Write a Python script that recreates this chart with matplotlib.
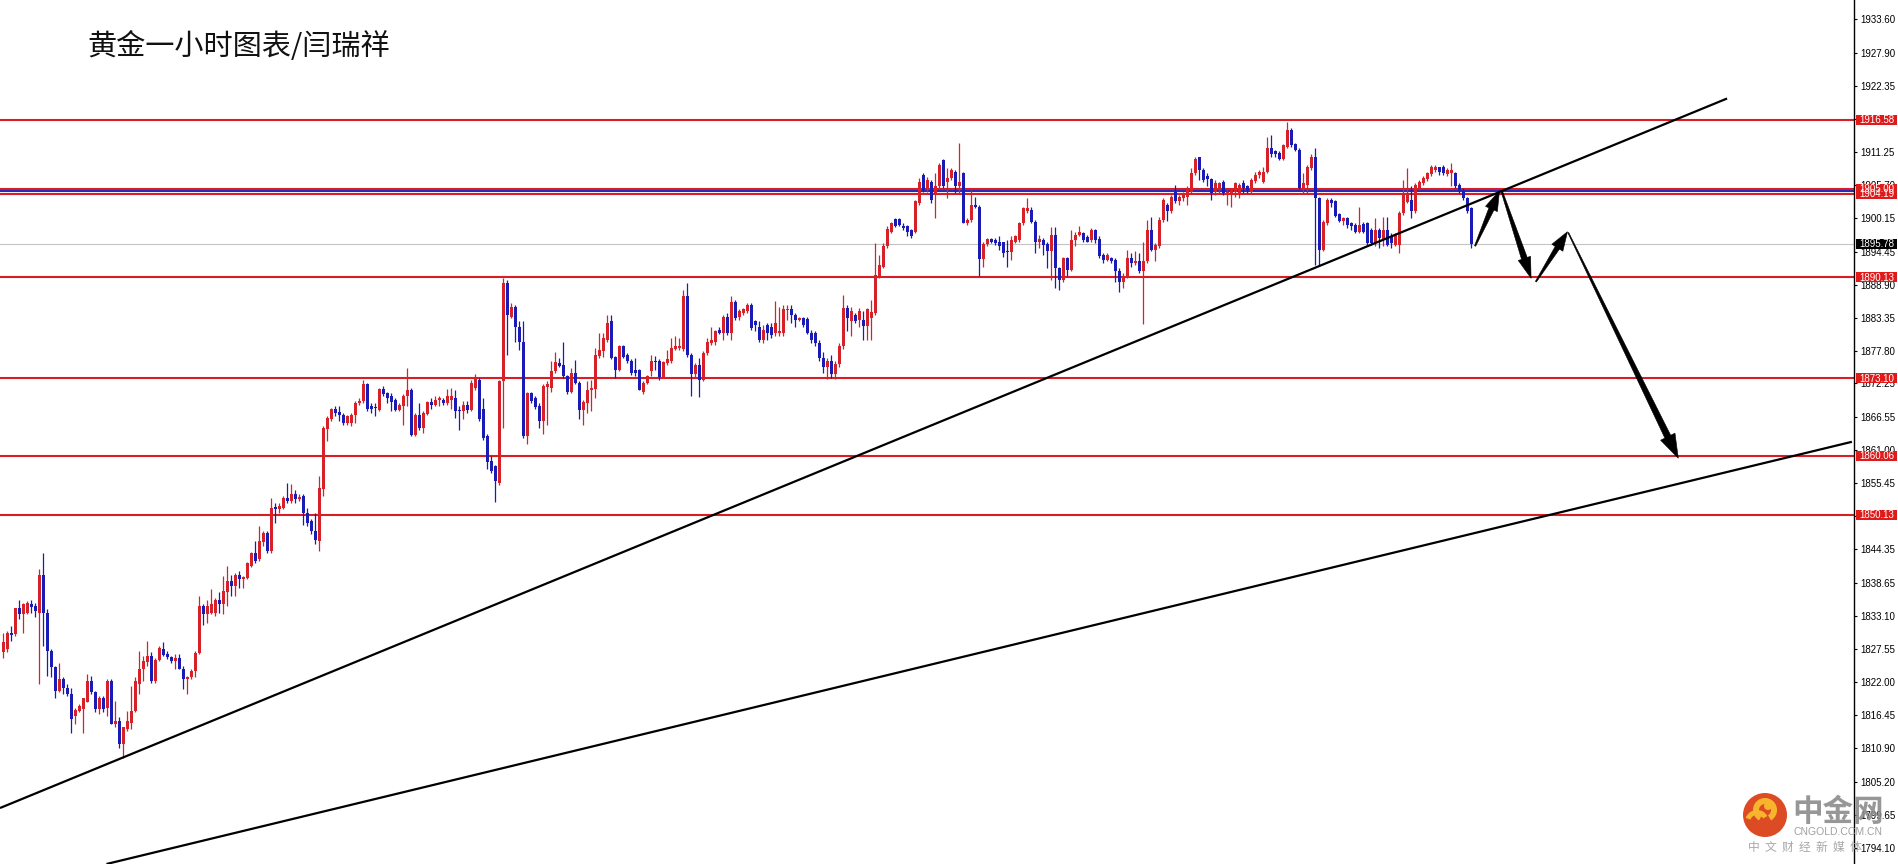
import numpy as np
import matplotlib
matplotlib.use("Agg")
import matplotlib.pyplot as plt
from matplotlib.patches import Polygon, Rectangle, Circle, Wedge

# ---------------- data ----------------
title = "黄金一小时图表/闫瑞祥"

opens = [
    1827.0, 1827.5, 1830.3, 1830.1, 1834.5, 1833.4, 1833.7, 1835.1, 1834.8, 1833.7,
    1840.0, 1833.7, 1827.3, 1824.5, 1820.5, 1822.6, 1821.1, 1820.0, 1816.3, 1817.2,
    1817.5, 1818.7, 1822.2, 1820.3, 1817.5, 1819.4, 1817.6, 1822.2, 1815.0, 1815.5,
    1811.6, 1814.1, 1815.2, 1817.2, 1821.7, 1824.2, 1825.4, 1826.4, 1822.2, 1825.7,
    1827.6, 1826.7, 1826.2, 1825.6, 1826.0, 1824.3, 1822.5, 1822.8, 1823.9, 1826.9,
    1834.9, 1833.4, 1833.7, 1833.7, 1835.8, 1835.1, 1837.2, 1839.0, 1838.2, 1840.0,
    1839.4, 1839.6, 1841.5, 1843.8, 1842.7, 1845.5, 1847.1, 1844.1, 1851.4, 1851.1,
    1851.3, 1853.0, 1852.5, 1853.6, 1852.9, 1853.3, 1850.5, 1849.1, 1847.4, 1845.7,
    1854.5, 1864.6, 1866.3, 1867.9, 1867.4, 1866.9, 1865.6, 1865.6, 1867.0, 1868.9,
    1869.3, 1872.1, 1868.4, 1868.3, 1867.8, 1871.3, 1870.6, 1870.2, 1869.5, 1867.8,
    1868.4, 1870.1, 1871.2, 1863.6, 1867.0, 1864.8, 1867.2, 1869.1, 1868.7, 1869.4,
    1869.5, 1869.0, 1869.5, 1869.8, 1867.8, 1867.6, 1868.7, 1867.8, 1871.5, 1872.9,
    1868.0, 1863.4, 1859.2, 1858.3, 1855.5, 1872.6, 1889.1, 1883.5, 1885.2, 1881.8,
    1879.3, 1863.4, 1870.7, 1869.8, 1868.4, 1865.9, 1871.7, 1871.5, 1874.3, 1875.7,
    1875.4, 1873.5, 1870.9, 1874.0, 1872.3, 1867.8, 1868.9, 1871.2, 1871.3, 1876.9,
    1877.8, 1879.6, 1882.7, 1876.7, 1874.5, 1878.5, 1877.1, 1876.1, 1874.6, 1874.6,
    1870.9, 1872.3, 1874.3, 1876.1, 1876.0, 1873.4, 1875.7, 1876.0, 1878.0, 1878.2,
    1878.0, 1887.0, 1877.1, 1873.9, 1875.4, 1872.9, 1877.4, 1879.1, 1879.3, 1881.3,
    1880.7, 1883.5, 1880.7, 1886.0, 1883.5, 1884.1, 1884.4, 1885.5, 1882.7, 1881.8,
    1879.6, 1882.1, 1881.8, 1880.7, 1880.7, 1880.7, 1884.6, 1884.7, 1883.8, 1883.0,
    1883.2, 1883.1, 1880.8, 1880.7, 1879.0, 1876.5, 1875.0, 1876.0, 1873.8, 1875.5,
    1878.5, 1884.9, 1882.7, 1883.8, 1883.0, 1883.0, 1881.9, 1883.3, 1884.1, 1890.3,
    1891.9, 1895.3, 1897.8, 1899.9, 1899.9, 1898.8, 1898.8, 1898.0, 1897.7, 1902.6,
    1907.3, 1904.8, 1906.2, 1904.0, 1905.4, 1909.9, 1906.2, 1906.8, 1907.9, 1905.4,
    1907.6, 1899.3, 1899.8, 1902.3, 1902.0, 1893.2, 1895.7, 1896.5, 1896.4, 1896.1,
    1896.0, 1894.4, 1894.3, 1896.1, 1896.4, 1899.2, 1901.3, 1901.5, 1899.5, 1896.1,
    1896.4, 1895.7, 1894.5, 1897.3, 1891.7, 1889.7, 1893.3, 1891.4, 1896.4, 1897.3,
    1897.6, 1896.9, 1896.4, 1898.1, 1896.5, 1893.9, 1893.1, 1893.4, 1893.1, 1891.1,
    1889.4, 1890.2, 1893.3, 1892.5, 1892.8, 1891.1, 1892.8, 1898.1, 1894.7, 1895.3,
    1899.8, 1902.3, 1901.2, 1904.4, 1903.0, 1903.5, 1903.7, 1904.5, 1907.6, 1910.3,
    1908.2, 1907.1, 1906.7, 1904.5, 1904.8, 1906.2, 1904.0, 1904.3, 1904.4, 1904.3,
    1905.9, 1905.4, 1904.5, 1906.3, 1907.3, 1906.2, 1907.9, 1911.9, 1911.3, 1911.1,
    1910.1, 1912.1, 1914.9, 1912.5, 1911.5, 1905.2, 1905.7, 1908.5, 1910.3, 1903.4,
    1894.7, 1899.2, 1903.1, 1902.9, 1900.7, 1899.6, 1900.1, 1899.2, 1898.9, 1897.8,
    1899.1, 1899.2, 1898.1, 1895.9, 1898.1, 1896.4, 1898.1, 1897.0, 1895.6, 1895.6,
    1900.9, 1902.8, 1903.1, 1901.2, 1905.1, 1906.0, 1906.7, 1907.5, 1908.2, 1908.6,
    1908.7, 1907.5, 1907.6, 1907.6, 1905.7, 1904.6, 1903.4, 1901.7,
]

highs = [
    1830.3, 1830.6, 1831.5, 1834.5, 1835.9, 1835.4, 1835.7, 1835.9, 1835.4, 1841.0,
    1843.8, 1834.3, 1827.5, 1824.7, 1825.3, 1822.8, 1821.7, 1821.1, 1817.7, 1818.3,
    1819.4, 1823.3, 1823.1, 1820.5, 1819.7, 1819.7, 1822.5, 1822.5, 1818.9, 1816.1,
    1814.4, 1817.2, 1821.4, 1822.8, 1827.3, 1826.4, 1828.9, 1827.0, 1826.1, 1828.1,
    1828.7, 1827.3, 1826.4, 1826.7, 1826.7, 1824.7, 1823.1, 1824.2, 1827.3, 1836.5,
    1835.1, 1835.9, 1837.6, 1836.2, 1837.1, 1839.9, 1841.5, 1840.1, 1840.4, 1840.7,
    1839.9, 1842.2, 1843.9, 1845.7, 1848.3, 1847.4, 1847.4, 1853.0, 1852.2, 1852.2,
    1853.3, 1855.5, 1855.3, 1854.4, 1853.6, 1853.6, 1851.3, 1849.4, 1850.5, 1856.7,
    1865.1, 1866.7, 1868.1, 1868.5, 1868.4, 1867.3, 1867.0, 1867.3, 1869.3, 1869.8,
    1872.9, 1872.3, 1869.0, 1869.0, 1871.5, 1871.8, 1870.9, 1870.6, 1869.8, 1869.0,
    1870.4, 1874.9, 1871.5, 1867.3, 1869.0, 1867.6, 1869.3, 1869.8, 1870.1, 1870.2,
    1869.8, 1871.3, 1871.5, 1871.2, 1868.4, 1869.3, 1869.3, 1872.9, 1873.9, 1873.2,
    1869.8, 1863.7, 1860.0, 1858.6, 1872.9, 1890.0, 1889.7, 1885.8, 1885.5, 1882.7,
    1882.7, 1870.9, 1870.9, 1870.1, 1869.0, 1872.1, 1872.6, 1876.0, 1877.5, 1876.5,
    1879.2, 1873.7, 1874.9, 1876.2, 1872.6, 1869.5, 1872.6, 1872.9, 1878.2, 1880.7,
    1880.7, 1883.8, 1883.8, 1876.9, 1878.8, 1878.8, 1877.4, 1876.4, 1876.5, 1874.7,
    1872.6, 1873.7, 1877.1, 1876.9, 1876.3, 1876.0, 1877.9, 1879.9, 1880.2, 1879.9,
    1888.0, 1889.1, 1877.4, 1875.7, 1876.5, 1877.7, 1879.9, 1881.8, 1881.3, 1881.8,
    1883.8, 1884.1, 1886.9, 1886.3, 1884.7, 1884.9, 1885.8, 1885.8, 1883.0, 1882.7,
    1882.1, 1882.4, 1882.4, 1886.1, 1885.2, 1885.5, 1885.5, 1885.5, 1884.1, 1883.5,
    1883.5, 1883.5, 1881.3, 1881.0, 1879.5, 1877.5, 1876.5, 1877.0, 1876.0, 1879.0,
    1887.2, 1885.5, 1885.2, 1884.1, 1884.9, 1884.4, 1884.9, 1886.3, 1895.9, 1893.9,
    1895.9, 1898.7, 1899.5, 1900.1, 1900.1, 1899.2, 1898.9, 1898.2, 1903.1, 1906.8,
    1907.6, 1907.0, 1906.5, 1907.6, 1909.3, 1910.1, 1908.5, 1908.5, 1908.2, 1912.7,
    1907.9, 1900.1, 1904.8, 1903.7, 1902.3, 1896.1, 1896.7, 1896.7, 1896.7, 1897.0,
    1896.1, 1896.4, 1897.1, 1897.3, 1899.5, 1902.0, 1903.4, 1902.0, 1899.8, 1897.3,
    1896.7, 1896.1, 1898.5, 1898.5, 1891.9, 1893.6, 1893.6, 1898.1, 1897.8, 1898.7,
    1897.8, 1897.3, 1898.4, 1898.2, 1897.0, 1894.2, 1894.2, 1893.6, 1893.3, 1891.7,
    1890.8, 1894.7, 1894.2, 1894.5, 1894.2, 1896.1, 1899.8, 1900.3, 1895.9, 1900.3,
    1903.4, 1902.6, 1904.0, 1905.7, 1904.0, 1904.4, 1905.4, 1908.5, 1910.4, 1910.4,
    1908.5, 1907.6, 1906.9, 1906.5, 1906.2, 1906.5, 1905.1, 1905.1, 1906.2, 1905.9,
    1906.5, 1905.7, 1906.8, 1907.9, 1908.2, 1908.7, 1913.8, 1914.0, 1911.5, 1911.3,
    1912.5, 1916.3, 1915.2, 1912.7, 1911.8, 1907.6, 1909.0, 1910.8, 1911.8, 1903.7,
    1899.8, 1903.4, 1903.4, 1903.1, 1900.9, 1900.3, 1900.3, 1899.5, 1899.2, 1902.0,
    1899.5, 1899.5, 1898.4, 1900.1, 1898.4, 1900.3, 1900.3, 1897.6, 1897.5, 1901.2,
    1906.5, 1908.5, 1905.4, 1905.9, 1906.5, 1907.1, 1907.9, 1909.0, 1909.0, 1908.7,
    1909.0, 1908.5, 1909.3, 1907.9, 1905.9, 1905.1, 1903.7, 1902.0,
]

lows = [
    1826.1, 1827.0, 1828.9, 1829.8, 1832.6, 1830.3, 1833.4, 1833.7, 1832.9, 1821.7,
    1828.1, 1823.1, 1822.8, 1819.4, 1820.3, 1820.0, 1819.7, 1813.5, 1814.9, 1816.9,
    1813.5, 1818.6, 1820.0, 1816.9, 1816.6, 1816.9, 1816.3, 1814.9, 1814.4, 1811.0,
    1809.3, 1813.8, 1814.1, 1816.9, 1820.0, 1822.2, 1824.7, 1821.9, 1821.9, 1825.6,
    1826.4, 1825.9, 1825.3, 1824.2, 1824.2, 1820.8, 1820.0, 1822.5, 1822.8, 1826.7,
    1831.7, 1832.0, 1833.4, 1833.1, 1833.7, 1833.4, 1834.8, 1836.5, 1836.5, 1837.9,
    1837.9, 1839.4, 1841.3, 1842.1, 1842.4, 1844.9, 1843.8, 1843.8, 1848.8, 1850.5,
    1851.1, 1852.2, 1852.2, 1852.2, 1852.5, 1848.5, 1848.3, 1846.9, 1845.2, 1844.1,
    1853.3, 1862.5, 1865.9, 1866.7, 1865.9, 1865.3, 1865.3, 1865.1, 1865.6, 1868.7,
    1869.0, 1867.6, 1867.3, 1866.7, 1867.7, 1870.1, 1869.0, 1867.6, 1867.6, 1867.6,
    1865.3, 1868.4, 1863.4, 1863.4, 1864.5, 1863.9, 1867.0, 1867.9, 1868.4, 1868.4,
    1868.7, 1868.7, 1867.9, 1866.4, 1864.5, 1866.2, 1867.3, 1867.6, 1871.2, 1865.9,
    1862.8, 1857.8, 1857.2, 1852.3, 1855.2, 1864.8, 1877.1, 1883.3, 1879.3, 1877.9,
    1863.1, 1862.0, 1869.0, 1868.0, 1864.8, 1863.8, 1865.3, 1870.9, 1874.0, 1875.1,
    1873.2, 1870.4, 1870.6, 1872.1, 1866.2, 1865.3, 1867.3, 1867.6, 1869.8, 1876.5,
    1876.7, 1879.3, 1876.4, 1873.2, 1874.3, 1876.5, 1875.7, 1873.7, 1873.5, 1871.1,
    1870.4, 1872.1, 1873.5, 1874.6, 1872.9, 1873.2, 1875.4, 1875.7, 1877.9, 1877.9,
    1877.7, 1876.7, 1870.2, 1873.2, 1870.0, 1872.6, 1877.1, 1878.8, 1878.8, 1880.5,
    1879.6, 1880.4, 1879.6, 1883.0, 1883.0, 1883.8, 1884.1, 1881.3, 1881.0, 1879.2,
    1879.0, 1879.6, 1879.9, 1880.2, 1880.2, 1880.2, 1883.0, 1882.4, 1881.8, 1882.7,
    1881.8, 1880.5, 1879.0, 1878.5, 1876.0, 1874.0, 1873.0, 1873.2, 1873.0, 1875.0,
    1878.0, 1881.0, 1880.2, 1882.4, 1881.8, 1879.6, 1879.6, 1879.6, 1883.8, 1890.0,
    1891.7, 1895.0, 1897.5, 1898.5, 1898.8, 1898.1, 1897.0, 1896.7, 1897.5, 1902.3,
    1904.5, 1904.5, 1902.6, 1900.1, 1905.1, 1905.1, 1903.4, 1906.5, 1904.3, 1904.3,
    1899.2, 1898.9, 1899.5, 1901.7, 1890.4, 1891.9, 1895.4, 1895.9, 1895.5, 1894.7,
    1893.6, 1891.9, 1893.1, 1895.9, 1896.1, 1898.9, 1900.9, 1899.2, 1894.2, 1895.0,
    1893.9, 1891.7, 1889.7, 1888.3, 1888.0, 1889.4, 1890.3, 1891.1, 1895.3, 1897.0,
    1896.1, 1896.0, 1896.1, 1895.9, 1893.3, 1892.5, 1892.8, 1892.5, 1889.4, 1887.7,
    1888.3, 1890.0, 1891.9, 1892.2, 1890.8, 1882.3, 1892.5, 1894.5, 1892.8, 1895.0,
    1899.5, 1899.6, 1900.9, 1902.6, 1902.3, 1903.0, 1902.3, 1904.3, 1907.3, 1906.5,
    1906.2, 1905.4, 1903.1, 1904.0, 1904.3, 1904.0, 1902.3, 1902.0, 1903.7, 1903.4,
    1904.3, 1904.3, 1904.3, 1905.9, 1906.8, 1905.9, 1907.6, 1910.4, 1910.4, 1909.9,
    1909.9, 1911.9, 1912.1, 1911.3, 1905.0, 1904.3, 1904.3, 1908.2, 1892.2, 1892.0,
    1894.5, 1898.9, 1902.0, 1900.3, 1899.5, 1898.9, 1898.4, 1898.1, 1897.5, 1897.5,
    1897.5, 1895.6, 1895.6, 1895.3, 1895.0, 1895.3, 1895.3, 1895.0, 1895.3, 1894.2,
    1900.6, 1902.7, 1900.1, 1900.9, 1904.8, 1905.7, 1906.3, 1907.2, 1907.9, 1907.4,
    1907.3, 1907.1, 1905.4, 1905.1, 1904.3, 1903.1, 1900.9, 1895.1,
]

closes = [
    1828.7, 1830.3, 1829.9, 1834.5, 1833.4, 1835.1, 1835.3, 1834.7, 1833.9, 1840.0,
    1833.7, 1827.3, 1824.5, 1820.5, 1822.5, 1821.1, 1820.0, 1815.8, 1817.3, 1818.0,
    1819.4, 1822.2, 1820.3, 1817.5, 1819.4, 1817.5, 1822.2, 1815.0, 1815.5, 1811.6,
    1814.4, 1815.5, 1817.2, 1822.2, 1824.3, 1825.6, 1826.4, 1822.2, 1825.7, 1827.8,
    1826.5, 1826.2, 1825.6, 1826.0, 1824.3, 1822.5, 1822.8, 1823.9, 1826.9, 1834.9,
    1833.4, 1834.9, 1835.1, 1835.8, 1835.1, 1837.3, 1839.0, 1838.2, 1840.0, 1839.4,
    1839.7, 1842.0, 1843.8, 1842.4, 1845.7, 1847.1, 1844.1, 1851.3, 1851.1, 1851.6,
    1853.0, 1852.5, 1853.6, 1852.8, 1853.2, 1850.5, 1848.8, 1847.4, 1846.0, 1854.7,
    1864.8, 1866.5, 1867.9, 1867.3, 1866.9, 1865.6, 1866.7, 1867.0, 1869.0, 1869.3,
    1872.1, 1867.9, 1868.0, 1868.1, 1871.3, 1870.5, 1869.8, 1869.2, 1867.8, 1868.7,
    1870.2, 1871.2, 1863.6, 1867.0, 1864.8, 1867.3, 1869.1, 1868.7, 1869.5, 1869.8,
    1868.9, 1870.2, 1870.2, 1867.6, 1867.6, 1868.7, 1867.8, 1872.3, 1873.2, 1866.2,
    1863.1, 1859.0, 1857.5, 1855.8, 1872.6, 1889.1, 1883.8, 1885.2, 1881.8, 1879.3,
    1863.4, 1870.7, 1869.3, 1868.3, 1865.9, 1871.9, 1872.1, 1874.3, 1875.8, 1875.2,
    1873.5, 1870.9, 1874.0, 1872.3, 1867.8, 1869.1, 1871.2, 1871.5, 1877.1, 1877.9,
    1879.9, 1882.4, 1876.5, 1874.5, 1878.5, 1876.7, 1876.0, 1874.0, 1874.0, 1871.2,
    1872.3, 1873.5, 1876.1, 1875.8, 1873.4, 1875.8, 1876.3, 1878.2, 1878.6, 1878.6,
    1887.0, 1877.1, 1873.9, 1875.4, 1872.9, 1877.4, 1879.3, 1879.6, 1881.0, 1880.7,
    1883.5, 1880.7, 1886.0, 1883.2, 1884.4, 1884.7, 1885.5, 1881.6, 1882.1, 1879.6,
    1881.3, 1880.7, 1880.4, 1882.4, 1881.0, 1884.7, 1884.7, 1883.8, 1883.0, 1883.3,
    1882.1, 1880.7, 1879.6, 1879.0, 1876.5, 1875.0, 1876.0, 1873.8, 1875.5, 1878.5,
    1884.9, 1883.2, 1884.4, 1882.7, 1884.4, 1881.9, 1884.7, 1884.2, 1890.5, 1892.2,
    1895.3, 1898.2, 1899.3, 1898.8, 1898.9, 1898.4, 1897.8, 1897.0, 1902.9, 1906.2,
    1904.8, 1906.5, 1903.1, 1905.4, 1909.0, 1905.4, 1906.8, 1908.2, 1905.4, 1906.2,
    1899.3, 1899.8, 1902.3, 1902.0, 1893.2, 1895.7, 1896.5, 1896.1, 1895.9, 1895.4,
    1894.2, 1894.3, 1896.4, 1897.0, 1899.2, 1901.7, 1901.7, 1899.5, 1896.1, 1896.5,
    1895.6, 1894.5, 1897.3, 1891.7, 1889.7, 1893.3, 1891.4, 1896.4, 1897.3, 1897.8,
    1896.4, 1896.1, 1898.1, 1896.4, 1893.7, 1893.1, 1893.9, 1892.8, 1891.1, 1889.4,
    1890.4, 1893.3, 1892.5, 1892.9, 1891.1, 1892.8, 1898.1, 1894.7, 1895.6, 1899.8,
    1903.1, 1901.2, 1903.7, 1902.9, 1903.7, 1904.0, 1905.0, 1907.6, 1910.0, 1908.2,
    1906.5, 1906.7, 1904.3, 1905.9, 1905.9, 1904.3, 1904.5, 1904.8, 1905.9, 1905.7,
    1905.1, 1904.8, 1906.5, 1907.4, 1907.8, 1907.9, 1911.9, 1910.8, 1910.8, 1910.1,
    1912.3, 1914.9, 1912.4, 1911.5, 1905.1, 1906.0, 1908.7, 1910.3, 1903.4, 1894.7,
    1899.5, 1903.1, 1902.7, 1900.5, 1899.6, 1900.1, 1898.9, 1898.7, 1897.8, 1898.9,
    1897.7, 1895.9, 1895.9, 1898.1, 1896.7, 1898.1, 1895.6, 1895.9, 1897.3, 1900.9,
    1904.0, 1904.0, 1901.2, 1905.7, 1906.2, 1906.8, 1907.6, 1908.7, 1908.7, 1907.8,
    1907.6, 1908.2, 1908.2, 1905.4, 1904.8, 1903.4, 1901.2, 1895.78,
]

# right-axis scale ticks
tick_values = [1933.60, 1927.90, 1922.35, 1916.80, 1911.25, 1905.70, 1900.15,
               1894.45, 1888.90, 1883.35, 1877.80, 1872.25, 1866.55, 1861.00,
               1855.45, 1849.90, 1844.35, 1838.65, 1833.10, 1827.55, 1822.00,
               1816.45, 1810.90, 1805.20, 1799.65, 1794.10]

# horizontal support / resistance levels
red_levels = [1916.58, 1905.00, 1904.19, 1890.13, 1873.10, 1860.06, 1850.13]
blue_level = 1904.60
current_price = 1895.78

# trend lines: (bar index, price) anchors
trend1_x = [-0.875, 430.9]
trend1_y = [1800.83, 1920.20]
trend2_x = [25.75, 462.1]
trend2_y = [1791.41, 1862.44]

# forecast arrows: (bar index, price) start -> tip
arrow_starts = [(367.9, 1895.38), (374.6, 1904.52), (383.1, 1889.38), (391.2, 1897.62)]
arrow_tips = [(374.0, 1904.69), (381.9, 1889.95), (391.0, 1897.79), (418.7, 1859.67)]

# ---------------- figure ----------------
W, H = 1898, 864
fig = plt.figure(figsize=(W / 100, H / 100), dpi=100)
fig.patch.set_facecolor("white")

AXIS_X = 1854
ax = fig.add_axes([0, 0, AXIS_X / W, 1])
PX_BAR = 4.0
X0 = 3.5
ax.set_xlim(-X0 / PX_BAR, (AXIS_X - X0) / PX_BAR)
PX_PER_UNIT = 5.944
REF_PRICE, REF_Y = 1916.58, 120.0
ax.set_ylim(REF_PRICE - (H - REF_Y) / PX_PER_UNIT, REF_PRICE + REF_Y / PX_PER_UNIT)

RED = "#d62128"
BLUE = "#1a1ab4"
LINE_RED = "#d81e24"

o = np.array(opens); h = np.array(highs); l = np.array(lows); c = np.array(closes)
idx = np.arange(len(c))
cols = np.where(c >= o, RED, BLUE)
ax.vlines(idx, l, h, colors=cols, lw=0.9, zorder=4)
body_b = np.minimum(o, c)
body_h = np.maximum(np.abs(c - o), 0.2)
ax.bar(idx, body_h, bottom=body_b, width=0.75, color=cols, lw=0, zorder=5)

for lv in red_levels:
    ax.axhline(lv, color=LINE_RED, lw=1.5, zorder=2)
ax.axhline(blue_level, color="#2a2ab8", lw=1.5, zorder=2)
ax.axhline(current_price, color="#c4c4c4", lw=0.8, zorder=1)

ax.plot(trend1_x, trend1_y, color="black", lw=1.6, zorder=6, solid_capstyle="butt")
ax.plot(trend2_x, trend2_y, color="black", lw=1.6, zorder=6, solid_capstyle="butt")

ax.yaxis.tick_right()
ax.set_yticks(tick_values)
ax.set_yticklabels([f"{v:.2f}" for v in tick_values])
ax.tick_params(axis="y", length=2.2, width=0.8, pad=2.2, labelsize=7.0,
               colors="black")
for lab in ax.get_yticklabels():
    lab.set_family("Liberation Sans")
ax.set_xticks([])
for s in ("top", "left", "bottom"):
    ax.spines[s].set_visible(False)
ax.spines["right"].set_color("black")
ax.spines["right"].set_linewidth(1.0)

fig.text(87 / W, 1 - 47 / H, title, fontsize=21, va="center", ha="left",
         family=["Noto Sans CJK SC", "DejaVu Sans"], color="#111111")

# ---------------- overlay (pixel coordinates) ----------------
ov = fig.add_axes([0, 0, 1, 1], zorder=10)
ov.set_xlim(0, W)
ov.set_ylim(H, 0)
ov.axis("off")
ov.patch.set_visible(False)


def to_px(xd, yd):
    dx, dy = ax.transData.transform((xd, yd))
    return dx, H - dy


def price_box(price, fc):
    _, py = to_px(0, price)
    ov.add_patch(Rectangle((1856, py - 5), 41, 10, facecolor=fc, edgecolor="none"))
    ov.text(1876.5, py + 0.3, f"{price:.2f}", color="white", fontsize=7.0,
            ha="center", va="center", family="Liberation Sans")


for lv in red_levels:
    price_box(lv, "#e01a1a")
price_box(current_price, "#000000")


def arrow(p0, p1, w0, w1, hl, hw):
    p0 = np.array(p0); p1 = np.array(p1)
    d = p1 - p0
    L = np.hypot(*d)
    u = d / L
    n = np.array([-u[1], u[0]])
    base = p1 - u * hl
    pts = [p0 + n * w0 / 2, base + n * w1 / 2, base + n * hw, p1,
           base - n * hw, base - n * w1 / 2, p0 - n * w0 / 2]
    ov.add_patch(Polygon(pts, closed=True, facecolor="black", edgecolor="black",
                         lw=0.4, zorder=7))


arrow_style = [(1.2, 5.5, 20, 6.5), (1.5, 6.0, 21, 6.5), (1.2, 5.0, 19, 6.5), (0.9, 6.5, 24, 8)]
for s, t, st in zip(arrow_starts, arrow_tips, arrow_style):
    arrow(to_px(*s), to_px(*t), *st)

# watermark logo
ov.add_patch(Circle((1765, 815), 22, facecolor="#dc4119", edgecolor="none", alpha=0.95))
ov.add_patch(Wedge((1765, 810), 12, 120, 420, width=6, facecolor="#f7b52c",
                   edgecolor="none"))
ov.add_patch(Wedge((1757, 822), 12, 200, 330, width=5, facecolor="#f7b52c",
                   edgecolor="none"))
ov.add_patch(Circle((1768, 806), 4, facecolor="#f7b52c", edgecolor="none"))
ov.text(1838, 812, "中金网", fontsize=22, fontweight="bold", color="#8c8c8c",
        ha="center", va="center", family=["Noto Sans CJK SC"], alpha=0.9)
ov.text(1838, 832, "CNGOLD.CCM.CN", fontsize=7.5, color="#a0a0a0",
        ha="center", va="center", family="Liberation Sans")
ov.text(1805, 847, "中  文  财  经  新  媒  体", fontsize=8.5, color="#a8a8a8",
        ha="center", va="center", family=["Noto Sans CJK SC"])

fig.savefig("out.png", dpi=100, facecolor="white")
